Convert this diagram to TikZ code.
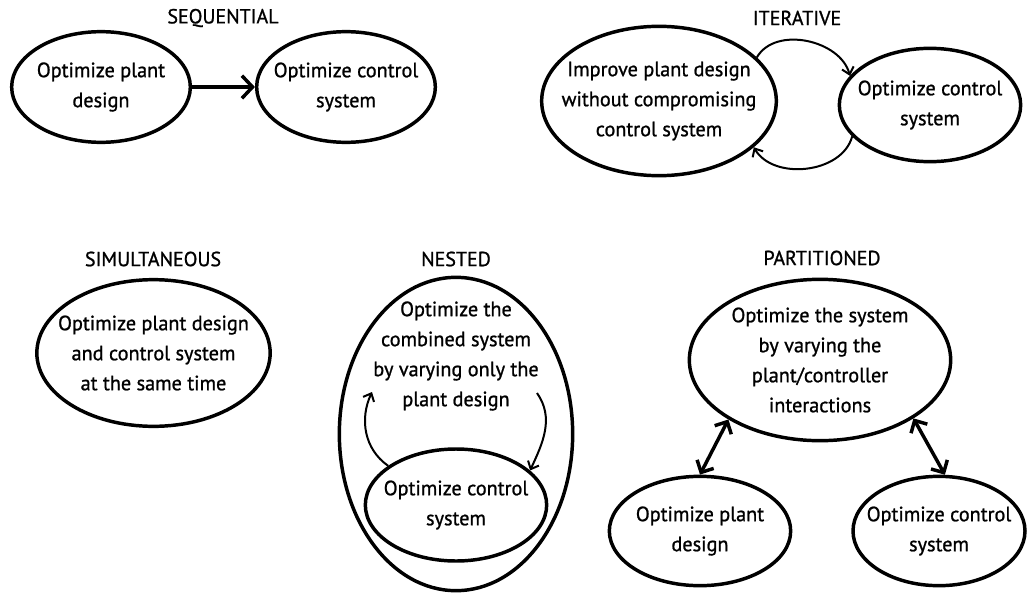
\documentclass[tikz,border=0pt]{standalone}
\usepackage{fontspec}
\setmainfont{PT Sans}[FakeStretch=0.98,FakeBold=1]
\usetikzlibrary{arrows.meta,shapes.geometric}

\begin{document}
\begin{tikzpicture}[x=0.75pt,y=-0.75pt,
  bubble/.style={ellipse, draw, line width=2.6pt, inner sep=0pt},
  plain/.style={align=center, font=\fontsize{15.5}{22.5}\selectfont},
  heading/.style={font=\fontsize{15.3}{16}\selectfont},
  bigarrow/.style={line width=2.6pt, -{Straight Barb[length=8pt,width=17pt]}},
  twoway/.style={line width=2.6pt, {Straight Barb[length=7pt,width=14pt]}-{Straight Barb[length=7pt,width=14pt]}},
  looparrow/.style={line width=1.5pt, -{Straight Barb[length=5pt,width=9pt]}}
]
\useasboundingbox (0,0) rectangle (1028,596);

\node[heading] (tSeq) at (223,18) {SEQUENTIAL};
\node[bubble, minimum width=134pt, minimum height=83pt, label={[plain]center:Optimize plant\\design}] (seqL) at (101,87) {};
\node[bubble, minimum width=134pt, minimum height=83pt, label={[plain]center:Optimize control\\system}] (seqR) at (346,87) {};
\draw[bigarrow] (seqL) -- (seqR);

\node[heading] (tIt) at (797,18) {ITERATIVE};
\node[bubble, minimum width=176pt, minimum height=112pt, label={[plain]center:Improve plant design\\without compromising\\control system}] (itL) at (659,101) {};
\node[bubble, minimum width=136pt, minimum height=85pt, label={[plain]center:Optimize control\\system}] (itR) at (930,105) {};
\draw[looparrow] (itL.24) to[out=60,in=105] (itR.160);
\draw[looparrow] (itR.202) to[out=-105,in=-60] (itL.334);

\node[heading] (tSim) at (153,259) {SIMULTANEOUS};
\node[bubble, minimum width=175pt, minimum height=110pt, label={[plain]center:Optimize plant design\\and control system\\at the same time}] (sim) at (153.5,353) {};

\node[heading] (tNs) at (456,259) {NESTED};
\node[bubble, minimum width=175pt, minimum height=235pt] (nsOut) at (456,434) {};
\node[plain] (nsTxt) at (456,356) {Optimize the\\combined system\\by varying only the\\plant design};
\node[bubble, minimum width=136pt, minimum height=84pt, label={[plain]center:Optimize control\\system}] (nsIn) at (456,505) {};
\coordinate (nsUp) at (372,392);
\coordinate (nsDown) at (537,393);
\draw[looparrow] (nsIn.150) to[out=145,in=-115] (nsUp);
\draw[looparrow] (nsDown) to[out=-55,in=65] (nsIn.25);

\node[heading] (tPt) at (822,258) {PARTITIONED};
\node[bubble, minimum width=196pt, minimum height=121pt, label={[plain]center:Optimize the system\\by varying the\\plant/controller\\interactions}] (ptTop) at (820,360) {};
\node[bubble, minimum width=136pt, minimum height=82pt, label={[plain]center:Optimize plant\\design}] (ptL) at (700,531) {};
\node[bubble, minimum width=129pt, minimum height=82pt, label={[plain]center:Optimize control\\system}] (ptR) at (939,531) {};
\draw[twoway] (ptTop.213) -- (ptL.90);
\draw[twoway] (ptTop.-32) -- (ptR.84);
\end{tikzpicture}
\end{document}
